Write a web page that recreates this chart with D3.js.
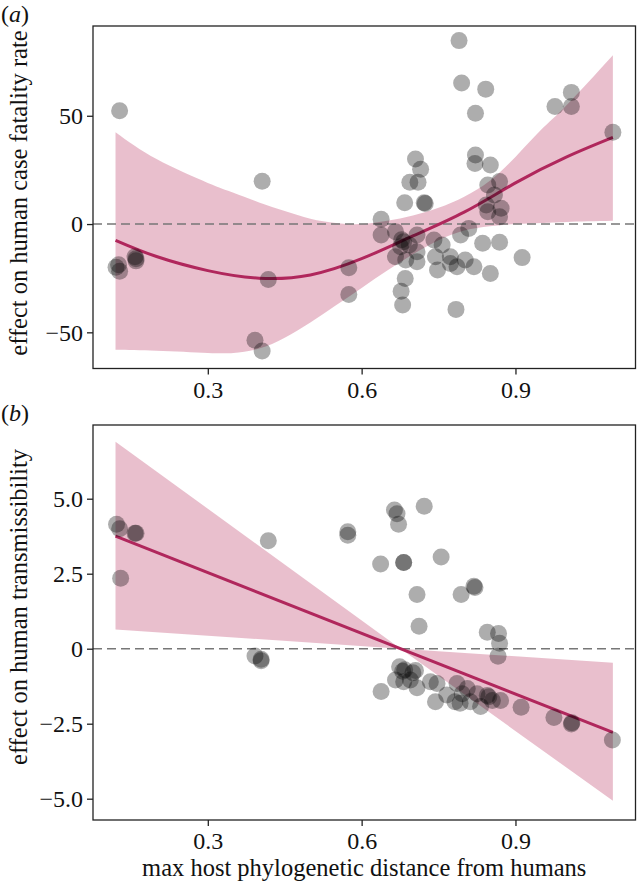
<!DOCTYPE html>
<html>
<head>
<meta charset="utf-8">
<script src="https://cdn.jsdelivr.net/npm/d3@7"></script>
<style>
  html, body { margin: 0; padding: 0; background: #fff; }
  svg { display: block; }
  text { font-family: "Liberation Serif", "Times New Roman", serif; fill: #111; }
</style>
</head>
<body>
<svg id="chart" width="637" height="887"></svg>
<script>
// ---------- data ----------
const xTicks = [0.3, 0.6, 0.9];
const xTickLabels = ["0.3", "0.6", "0.9"];
const xTitle = "max host phylogenetic distance from humans";

// panel (a): effect on human case fatality rate
const aTitle = "effect on human case fatality rate";
const aYTicks = [-50, 0, 50];
const aYTickLabels = ["\u221250", "0", "50"];
const aX = [0.128, 0.121, 0.128, 0.126, 0.158, 0.160, 0.160,
  0.406, 0.418, 0.392, 0.406, 0.575, 0.575,
  0.638, 0.638, 0.666, 0.682, 0.678, 0.676, 0.693, 0.708, 0.708, 0.708, 0.666, 0.686,
  0.705, 0.715, 0.694, 0.710, 0.684, 0.724, 0.722,
  0.741, 0.757, 0.744, 0.748, 0.773, 0.773, 0.786, 0.802, 0.819, 0.851, 0.836, 0.869, 0.913, 0.793, 0.809,
  0.685, 0.677, 0.680, 0.784,
  0.790, 0.795, 0.842, 0.822,
  0.822, 0.821, 0.851, 0.846, 0.869, 0.859, 0.843, 0.872, 0.846, 0.869,
  0.977, 1.009, 1.009, 1.090];
const aY = [52.3, -20.0, -21.8, -18.8, -15.1, -17.0, -16.0,
  19.8, -25.6, -53.7, -58.6, -20.2, -32.5,
  2.2, -5.1, -3.5, -8.2, -7.2, -10.5, -9.7, -5.1, -12.8, -17.4, -15.1, -16.6,
  30.0, 25.3, 19.3, 19.3, 9.8, 9.5, 9.8,
  -7.4, -9.7, -15.1, -21.2, -15.1, -18.2, -19.7, -16.6, -19.7, -22.8, -8.9, -8.4, -15.5, -5.1, -2.0,
  -25.1, -31.0, -37.4, -39.4,
  84.7, 65.1, 62.3, 51.2,
  31.9, 28.0, 27.3, 18.0, 19.6, 13.4, 8.8, 7.3, 5.7, 3.4,
  54.3, 60.8, 54.3, 42.4];
const aFitX  = [0.12, 0.2, 0.3, 0.4, 0.5, 0.6, 0.7, 0.8, 0.9, 1.0, 1.09];
const aFit   = [-7.5, -15, -21.5, -25, -23.5, -16, -5.5, 5.5, 19, 31, 40];
const aBandX = [0.12, 0.2, 0.3, 0.35, 0.4, 0.45, 0.5, 0.55, 0.6, 0.65, 0.7, 0.75, 0.8, 0.85, 0.9, 0.95, 1.0, 1.09];
const aUpper = [42.4, 30, 19, 14.5, 10, 6, 2.5, 0.5, 0, 1.5, 4, 7.5, 12.6, 20, 31, 43.5, 55, 78];
const aLower = [-58, -58.5, -59.5, -59.5, -57.5, -52.5, -45.5, -37.5, -29.5, -21.5, -14, -7.5, -3, -1, 0, 0.5, 1, 1.5];

// panel (b): effect on human transmissibility
const bTitle = "effect on human transmissibility";
const bYTicks = [-5, -2.5, 0, 2.5, 5];
const bYTickLabels = ["\u22125.0", "\u22122.5", "0", "2.5", "5.0"];
const bX = [0.122, 0.128, 0.158, 0.160, 0.130,
  0.418, 0.392, 0.404, 0.404,
  0.573, 0.573,
  0.664, 0.669, 0.672, 0.722,
  0.637, 0.682, 0.682, 0.755,
  0.708, 0.794, 0.819, 0.821, 0.712,
  0.845, 0.867, 0.869, 0.866,
  0.674, 0.666, 0.680, 0.684, 0.705, 0.700, 0.695, 0.682, 0.708, 0.638, 0.734, 0.747, 0.766, 0.744,
  0.786, 0.796, 0.806, 0.825, 0.845, 0.848, 0.855, 0.871, 0.782, 0.812, 0.792, 0.832,
  0.911, 0.975, 1.009, 1.010, 1.089];
const bY = [4.15, 4.0, 3.85, 3.85, 2.35,
  3.6, -0.24, -0.35, -0.4,
  3.9, 3.78,
  4.62, 4.5, 4.15, 4.75,
  2.82, 2.87, 2.87, 3.06,
  1.81, 1.81, 2.08, 2.04, 0.75,
  0.55, 0.51, 0.18, -0.25,
  -0.6, -1.04, -0.75, -0.7, -0.73, -0.8, -1.04, -1.1, -1.3, -1.43, -1.1, -1.16, -1.54, -1.77,
  -1.16, -1.5, -1.33, -1.5, -1.56, -1.6, -1.73, -1.73, -1.77, -1.77, -1.82, -1.93,
  -1.95, -2.29, -2.51, -2.47, -3.04];
const bFitX  = [0.12, 1.09];
const bFit   = [3.75, -2.79];
const bBandX = [0.12, 0.676, 1.09];
const bUpper = [6.9, 0.0, -0.47];
const bLower = [0.64, 0.0, -5.07];

// ---------- layout ----------
const svg = d3.select("#chart");
const left = 93, right = 635.5;
const x = d3.scaleLinear().domain([0.0761, 1.1341]).range([left, right]);

const panels = [
  { label: "a", title: aTitle, top: 26, bottom: 368.5, yDomain: [-66.7, 91.45],
    yTicks: aYTicks, yLabels: aYTickLabels, px: aX, py: aY,
    fitX: aFitX, fit: aFit, bandX: aBandX, upper: aUpper, lower: aLower,
    curve: d3.curveNatural, titleY: 193, showXTitle: false },
  { label: "b", title: bTitle, top: 425, bottom: 820, yDomain: [-5.71, 7.457],
    yTicks: bYTicks, yLabels: bYTickLabels, px: bX, py: bY,
    fitX: bFitX, fit: bFit, bandX: bBandX, upper: bUpper, lower: bLower,
    curve: d3.curveLinear, titleY: 607, showXTitle: true }
];

const FONT = 24, TITLE_FONT = 24.5;

panels.forEach(p => {
  const y = d3.scaleLinear().domain(p.yDomain).range([p.bottom, p.top]);
  const g = svg.append("g");
  const clipId = "clip-" + p.label;
  svg.append("clipPath").attr("id", clipId)
    .append("rect").attr("x", left).attr("y", p.top)
    .attr("width", right - left).attr("height", p.bottom - p.top);

  const plot = g.append("g").attr("clip-path", `url(#${clipId})`);

  // confidence band
  const bandData = p.bandX.map((v, i) => ({ x: v, lo: p.lower[i], hi: p.upper[i] }));
  plot.append("path").datum(bandData)
    .attr("d", d3.area().curve(p.curve).x(d => x(d.x)).y0(d => y(d.lo)).y1(d => y(d.hi)))
    .attr("fill", "#c0486f").attr("fill-opacity", 0.35);

  // zero reference line
  plot.append("line")
    .attr("x1", left).attr("x2", right).attr("y1", y(0)).attr("y2", y(0))
    .attr("stroke", "#777").attr("stroke-width", 1.6).attr("stroke-dasharray", "9,5");

  // fitted line
  const fitData = p.fitX.map((v, i) => ({ x: v, y: p.fit[i] }));
  plot.append("path").datum(fitData)
    .attr("d", d3.line().curve(p.curve).x(d => x(d.x)).y(d => y(d.y)))
    .attr("fill", "none").attr("stroke", "#b0275c").attr("stroke-width", 3);

  // points
  const pts = p.px.map((v, i) => ({ x: v, y: p.py[i] }));
  plot.selectAll("circle").data(pts).enter().append("circle")
    .attr("cx", d => x(d.x)).attr("cy", d => y(d.y)).attr("r", 8.5)
    .attr("fill", "#000").attr("fill-opacity", 0.32);

  // axes
  const xAxis = d3.axisBottom(x).tickValues(xTicks)
    .tickFormat((d, i) => xTickLabels[i]).tickSize(6).tickPadding(6);
  const gx = g.append("g").attr("transform", `translate(0,${p.bottom})`).call(xAxis);
  const yAxis = d3.axisLeft(y).tickValues(p.yTicks)
    .tickFormat((d, i) => p.yLabels[i]).tickSize(6).tickPadding(4);
  const gy = g.append("g").attr("transform", `translate(${left},0)`).call(yAxis);
  [gx, gy].forEach(ax => {
    ax.select(".domain").remove();
    ax.selectAll(".tick line").attr("stroke", "#222").attr("stroke-width", 1.3);
    ax.selectAll(".tick text").attr("font-size", FONT)
      .attr("font-family", "Liberation Serif, Times New Roman, serif").attr("fill", "#111");
  });

  // frame
  g.append("rect").attr("x", left).attr("y", p.top)
    .attr("width", right - left).attr("height", p.bottom - p.top)
    .attr("fill", "none").attr("stroke", "#222").attr("stroke-width", 1.3);

  // y title
  g.append("text")
    .attr("transform", `translate(27,${p.titleY}) rotate(-90)`)
    .attr("text-anchor", "middle").attr("font-size", TITLE_FONT)
    .text(p.title);

  // panel label
  const lab = g.append("text").attr("x", 1).attr("y", p.top - 4).attr("font-size", FONT);
  lab.append("tspan").text("(");
  lab.append("tspan").attr("font-style", "italic").text(p.label);
  lab.append("tspan").text(")");

  if (p.showXTitle) {
    g.append("text").attr("x", (left + right) / 2).attr("y", 876)
      .attr("text-anchor", "middle").attr("font-size", TITLE_FONT).text(xTitle);
  }
});
</script>
</body>
</html>
